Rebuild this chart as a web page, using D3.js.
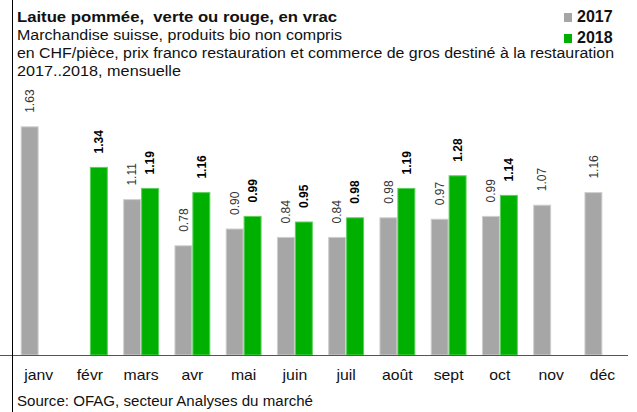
<!DOCTYPE html>
<html>
<head>
<meta charset="UTF-8">
<title>Laitue pommée</title>
<script src="https://cdn.jsdelivr.net/npm/d3@7"></script>
<style type="text/css">
body { margin: 0; background: #fff; }
svg { font-family: "Liberation Sans", Arial, sans-serif; display: block; }
</style>
</head>
<body>
<div class="chart"></div>
<script>
// values, CHF/pièce
var months = ["janv", "févr", "mars", "avr", "mai", "juin", "juil", "août", "sept", "oct", "nov", "déc"];
var values2017 = [1.63, null, 1.11, 0.78, 0.90, 0.84, 0.84, 0.98, 0.97, 0.99, 1.07, 1.16];
var values2018 = [null, 1.34, 1.19, 1.16, 0.99, 0.95, 0.98, 1.19, 1.28, 1.14, null, null];
var seriesNames = ["2017", "2018"];
var colors = {"2017": "#a6a6a6", "2018": "#00b000"};
var edges = {"2017": "#cfcfcf", "2018": "#5ccf5c"};

var width = 637, height = 412;
var baseY = 355;
var stretch = 1.13; // the original text is a bit wider than Liberation Sans

var svg = d3.select(".chart")
	.append("svg")
	.attr("width", width)
	.attr("height", height);

var x = d3.scaleBand()
	.domain(months)
	.range([13, 628])
	.paddingInner(0.3)
	.paddingOuter(0.15);

var xSub = d3.scaleBand()
	.domain(seriesNames)
	.range([0, x.bandwidth()]);

var y = d3.scaleLinear()
	.domain([0, 1.8])
	.range([baseY, baseY - 1.8 * 140]);

var rows = [];
months.forEach(function(m, i){
	rows.push({month: m, series: "2017", value: values2017[i]});
	rows.push({month: m, series: "2018", value: values2018[i]});
});
rows = rows.filter(function(d){ return d.value != null; });

// bars
svg.selectAll("rect.bar")
	.data(rows)
	.enter()
	.append("rect")
	.attr("class", "bar")
	.attr("x", function(d){ return x(d.month) + xSub(d.series) + 0.5; })
	.attr("width", xSub.bandwidth() - 1)
	.attr("y", function(d){ return y(d.value); })
	.attr("height", function(d){ return baseY - y(d.value); })
	.attr("fill", function(d){ return colors[d.series]; })
	.attr("stroke", function(d){ return edges[d.series]; })
	.attr("stroke-width", 1);

// value labels, rotated
svg.selectAll("text.val")
	.data(rows)
	.enter()
	.append("text")
	.attr("class", "val")
	.attr("transform", function(d){
		var cx = x(d.month) + xSub(d.series) + xSub.bandwidth() / 2;
		return "translate(" + cx + "," + (y(d.value) - 14) + ") rotate(-90)";
	})
	.attr("dy", "0.36em")
	.attr("font-size", 12)
	.attr("font-weight", function(d){ return d.series == "2018" ? "bold" : "normal"; })
	.attr("fill", function(d){ return d.series == "2018" ? "#000" : "#333"; })
	.text(function(d){ return d.value.toFixed(2); });

// axis
var axis = d3.axisBottom(x).tickSize(0).tickPadding(0);
var gAxis = svg.append("g")
	.attr("transform", "translate(0," + baseY + ")")
	.call(axis);
gAxis.select(".domain").remove();
gAxis.selectAll("text")
	.attr("y", 0)
	.attr("dy", 0)
	.attr("transform", "translate(0,25) scale(" + stretch + ",1)")
	.attr("font-size", 14)
	.attr("font-family", "Liberation Sans, Arial, sans-serif")
	.attr("fill", "#111");

svg.append("line")
	.attr("x1", 0).attr("x2", 628)
	.attr("y1", baseY + 0.5).attr("y2", baseY + 0.5)
	.attr("stroke", "#555");

svg.append("line")
	.attr("x1", 12.5).attr("x2", 12.5)
	.attr("y1", 0).attr("y2", height)
	.attr("stroke", "#000");

// title block
svg.append("text")
	.attr("x", 17).attr("y", 22)
	.attr("font-size", 14.5)
	.attr("font-weight", "bold")
	.attr("fill", "#111")
	.attr("textLength", 320)
	.attr("lengthAdjust", "spacingAndGlyphs")
	.attr("xml:space", "preserve")
	.text("Laitue pommée,  verte ou rouge, en vrac");

var subLines = [
	"Marchandise suisse, produits bio non compris",
	"en CHF/pièce, prix franco restauration et commerce de gros destiné à la restauration",
	"2017..2018, mensuelle"
];
var subWidths = [325, 597, 164];
svg.selectAll("text.sub")
	.data(subLines)
	.enter()
	.append("text")
	.attr("class", "sub")
	.attr("x", 17)
	.attr("y", function(d, i){ return 40 + i * 18; })
	.attr("font-size", 14)
	.attr("fill", "#111")
	.attr("textLength", function(d, i){ return subWidths[i]; })
	.attr("lengthAdjust", "spacingAndGlyphs")
	.text(function(d){ return d; });

// legend
var legend = svg.selectAll("g.leg")
	.data(seriesNames)
	.enter()
	.append("g")
	.attr("class", "leg")
	.attr("transform", function(d, i){ return "translate(564," + (22 + i * 21) + ")"; });
legend.append("rect")
	.attr("x", 0).attr("y", -9)
	.attr("width", 8).attr("height", 9)
	.attr("fill", function(d){ return colors[d]; });
legend.append("text")
	.attr("x", 13).attr("y", 0)
	.attr("font-size", 16)
	.attr("font-weight", "bold")
	.attr("fill", "#111")
	.text(function(d){ return d; });

svg.append("text")
	.attr("x", 17).attr("y", 406)
	.attr("font-size", 14)
	.attr("fill", "#111")
	.attr("textLength", 296)
	.attr("lengthAdjust", "spacingAndGlyphs")
	.text("Source: OFAG, secteur Analyses du marché");
</script>
</body>
</html>
